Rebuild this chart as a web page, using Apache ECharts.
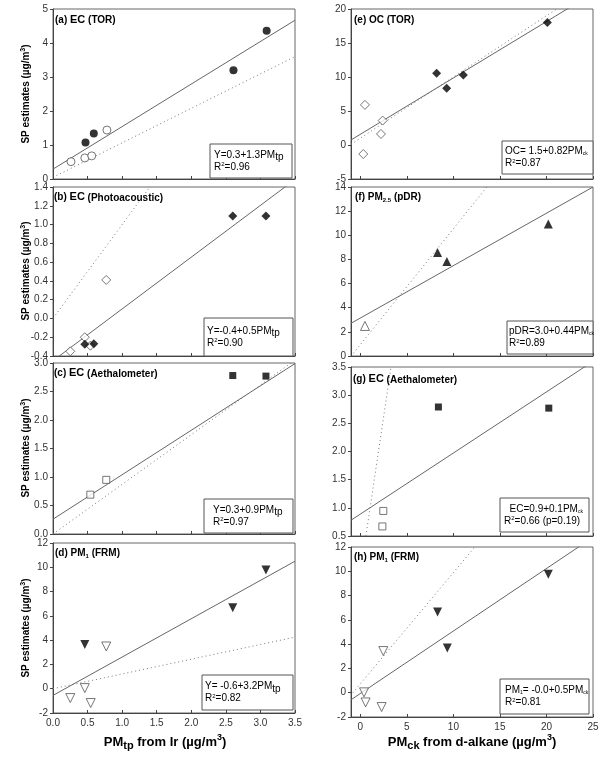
<!DOCTYPE html>
<html>
<head>
<meta charset="utf-8">
<script src="https://cdn.jsdelivr.net/npm/echarts@6/dist/echarts.min.js"></script>
<style>
html,body{margin:0;padding:0;background:#fff;}
#chart{width:602px;height:757px;}
</style>
</head>
<body>
<div id="chart"></div>
<script>
// ---------- data ----------
// Panel (a) EC (TOR)
const aFilled = [[0.47,1.07],[0.59,1.34],[2.61,3.2],[3.09,4.36]];
const aOpen   = [[0.26,0.51],[0.46,0.62],[0.56,0.68],[0.78,1.44]];
const aFit    = [[0,0.29],[3.5,4.67]];
const aRef    = [[0.05,0.1],[3.5,3.6]];
// Panel (b) EC (Photoacoustic)
const bFilled = [[0.46,-0.275],[0.59,-0.27],[2.6,1.09],[3.08,1.09]];
const bOpen   = [[0.25,-0.35],[0.46,-0.2],[0.54,-0.29],[0.77,0.41]];
const bFit    = [[0,-0.45],[3.5,1.48]];
const bRef    = [[0,0],[3.5,3.5]];
// Panel (c) EC (Aethalometer)
const cFilled = [[2.6,2.78],[3.08,2.77]];
const cOpen   = [[0.54,0.69],[0.77,0.95]];
const cFit    = [[0,0.26],[3.5,2.99]];
const cRef    = [[0,0],[3.5,3.05]];
// Panel (d) PM1 (FRM)
const dFilled = [[0.46,3.65],[2.6,6.66],[3.08,9.78]];
const dOpen   = [[0.25,-0.77],[0.46,0.05],[0.545,-1.18],[0.77,3.48]];
const dFit    = [[0,-0.55],[3.5,10.5]];
const dRef    = [[0,0],[3.5,4.25]];
// Panel (e) OC (TOR)
const eFilled = [[8.2,10.56],[9.28,8.35],[11.07,10.3],[20.1,18.0]];
const eOpen   = [[0.5,5.9],[0.32,-1.33],[2.22,1.62],[2.4,3.59]];
const eFit    = [[-1,0.74],[25,22.3]];
const eRef    = [[-1,0.1],[21.1,20]];
// Panel (f) PM2.5 (pDR)
const fFilled = [[8.3,8.58],[9.3,7.83],[20.2,10.93]];
const fOpen   = [[0.5,2.49]];
const fFit    = [[-1,2.71],[25,14]];
const fRef    = [[-0.75,0.22],[13.6,14]];
// Panel (g) EC (Aethalometer)
const gFilled = [[8.39,2.79],[20.25,2.77]];
const gOpen   = [[2.47,0.945],[2.37,0.67]];
const gFit    = [[-1,0.78],[25,3.6]];
const gRef    = [[0.6,0.5],[3.3,3.5]];
// Panel (h) PM1 (FRM)
const hFilled = [[8.3,6.65],[9.35,3.68],[20.2,9.75]];
const hOpen   = [[0.4,0.03],[0.57,-0.8],[2.29,-1.18],[2.47,3.43]];
const hFit    = [[-1,-0.58],[25,12.8]];
const hRef    = [[-0.8,0],[12.3,12]];

// axis ranges [min, max, interval, decimals]
const yRanges = [[0,5,1,0],[-0.4,1.4,0.2,1],[0,3,0.5,1],[-2,12,2,0],[-5,20,5,0],[0,14,2,0],[0.5,3.5,0.5,1],[-2,12,2,0]];
const xLeftRange = [0,3.5,0.5];
const xRightRange = [-1,25];
const xRightTicks = [0,5,10,15,20,25];

// ---------- layout ----------
const FONT = '"Liberation Sans", Arial, sans-serif';
const grids = [
  {left:53, top:9,   width:242, height:170},
  {left:53, top:187, width:242, height:169},
  {left:53, top:363, width:242, height:171},
  {left:53, top:543, width:242, height:170},
  {left:351, top:9,   width:242, height:170},
  {left:351, top:187, width:242, height:169},
  {left:351, top:367, width:242, height:169},
  {left:351, top:547, width:242, height:170}
];
const panels = [
  [aFilled,aOpen,aFit,aRef,'circle',0],
  [bFilled,bOpen,bFit,bRef,'diamond',0],
  [cFilled,cOpen,cFit,cRef,'rect',0],
  [dFilled,dOpen,dFit,dRef,'triangle',180],
  [eFilled,eOpen,eFit,eRef,'diamond',0],
  [fFilled,fOpen,fFit,fRef,'triangle',0],
  [gFilled,gOpen,gFit,gRef,'rect',0],
  [hFilled,hOpen,hFit,hRef,'triangle',180]
];

const xAxes = [], yAxes = [], series = [];
grids.forEach((g,i)=>{
  const right = i>=4;
  const bottomRow = (i===3||i===7);
  const xa = {
    type:'value', gridIndex:i,
    axisLine:{show:true, onZero:false, lineStyle:{color:'#444',width:1}},
    axisTick:{show:true, inside:true, length:3, lineStyle:{color:'#444'}},
    splitLine:{show:false},
    axisLabel:{show:bottomRow, color:'#333', fontSize:10, fontFamily:FONT, margin:5}
  };
  if(!right){
    xa.min = xLeftRange[0]; xa.max = xLeftRange[1]; xa.interval = xLeftRange[2];
    xa.axisLabel.formatter = v=>v.toFixed(1);
  } else {
    xa.min = xRightRange[0]; xa.max = xRightRange[1];
    xa.axisLabel.customValues = xRightTicks;
    xa.axisTick.customValues = xRightTicks;
  }
  xAxes.push(xa);
  const yr = yRanges[i];
  yAxes.push({
    type:'value', gridIndex:i, min:yr[0], max:yr[1], interval:yr[2],
    axisLine:{show:true, onZero:false, lineStyle:{color:'#444',width:1}},
    axisTick:{show:true, length:3, lineStyle:{color:'#444'}},
    splitLine:{show:false},
    axisLabel:{color:'#333', fontSize:10, fontFamily:FONT, margin:5, formatter:v=>v.toFixed(yr[3])}
  });
  const p = panels[i];
  const size = p[4]==='rect'?7:(p[4]==='circle'?8:9);
  series.push({type:'line', xAxisIndex:i, yAxisIndex:i, data:p[3], symbol:'none', clip:true, silent:true,
    lineStyle:{color:'#777', width:1, type:[1,3]}, z:2});
  series.push({type:'line', xAxisIndex:i, yAxisIndex:i, data:p[2], symbol:'none', clip:true, silent:true,
    lineStyle:{color:'#666', width:1}, z:3});
  series.push({type:'scatter', xAxisIndex:i, yAxisIndex:i, data:p[1], symbol:p[4], symbolRotate:p[5],
    symbolSize:size, itemStyle:{color:'#fff', borderColor:'#555', borderWidth:1}, z:4});
  series.push({type:'scatter', xAxisIndex:i, yAxisIndex:i, data:p[0], symbol:p[4], symbolRotate:p[5],
    symbolSize:size, itemStyle:{color:'#000'}, z:5});
});

// ---------- texts ----------
const titleRich = {
  p:{fontSize:10, fontWeight:'bold', fontFamily:FONT, color:'#111'},
  e:{fontSize:11, fontWeight:'bold', fontFamily:FONT, color:'#111'},
  q:{fontSize:10, fontWeight:'bold', fontFamily:FONT, color:'#111', padding:[3,0,0,0]},
  s:{fontSize:6, fontWeight:'bold', fontFamily:FONT, color:'#111', padding:[6,0,0,0]}
};
const titles = [
  [55,20,'{p|(a) }{e|EC}{p| (TOR)}'],
  [54,197,'{p|(b) }{e|EC}{q| (Photoacoustic)}'],
  [54,373,'{p|(c) }{e|EC}{q| (Aethalometer)}'],
  [55,553,'{p|(d) PM}{s|1}{p| (FRM)}'],
  [354,20,'{p|(e) OC (TOR)}'],
  [355,197,'{p|(f) PM}{s|2.5}{p| (pDR)}'],
  [353,379,'{p|(g) }{e|EC}{q| (Aethalometer)}'],
  [354,557,'{p|(h) PM}{s|1}{p| (FRM)}']
];
const boxRich = {
  n:{fontSize:10, fontFamily:FONT, color:'#222', lineHeight:12},
  t:{fontSize:10, fontFamily:FONT, color:'#222', padding:[5,0,0,0], lineHeight:12},
  k:{fontSize:5, fontFamily:FONT, color:'#222', padding:[5,0,0,0], lineHeight:12},
  u:{fontSize:6, fontFamily:FONT, color:'#222', padding:[0,0,5,0], lineHeight:12}
};
const boxes = [
  [210,144,82,34,214,'{n|Y=0.3+1.3PM}{t|tp}\n{n|R}{u|2}{n|=0.96}'],
  [204,318,89,38,207,'{n|Y=-0.4+0.5PM}{t|tp}\n{n|R}{u|2}{n|=0.90}'],
  [204,499,89,34,213,'{n|Y=0.3+0.9PM}{t|tp}\n{n|R}{u|2}{n|=0.97}'],
  [202,675,91,35,205,'{n|Y= -0.6+3.2PM}{t|tp}\n{n|R}{u|2}{n|=0.82}'],
  [502,141,91,33,505,'{n|OC= 1.5+0.82PM}{k|ck}\n{n|R}{u|2}{n|=0.87}'],
  [507,321,86,33,509,'{n|pDR=3.0+0.44PM}{k|ck}\n{n|R}{u|2}{n|=0.89}'],
  [500,498,89,34,504,'{n|  EC=0.9+0.1PM}{k|ck}\n{n|R}{u|2}{n|=0.66 (p=0.19)}'],
  [500,679,89,35,505,'{n|PM}{k|1}{n|= -0.0+0.5PM}{k|ck}\n{n|R}{u|2}{n|=0.81}']
];
const graphic = [];
titles.forEach(t=>{
  graphic.push({type:'text', x:t[0], y:t[1], z:100,
    style:{text:t[2], rich:titleRich, verticalAlign:'middle', align:'left'}});
});
boxes.forEach(b=>{
  graphic.push({type:'rect', x:b[0], y:b[1], z:100, shape:{x:0,y:0,width:b[2],height:b[3]},
    style:{fill:'#fff', stroke:'#555', lineWidth:1}});
  graphic.push({type:'text', x:b[4], y:b[1]+b[3]/2, z:101,
    style:{text:b[5], rich:boxRich, verticalAlign:'middle', align:'left'}});
});
const yNameRich = {
  b:{fontSize:10, fontWeight:'bold', fontFamily:FONT, color:'#111'},
  u:{fontSize:7, fontWeight:'bold', fontFamily:FONT, color:'#111', padding:[0,0,6,0]}
};
[94,271,448,628].forEach(cy=>{
  graphic.push({type:'text', x:26, y:cy, rotation:Math.PI/2, z:100,
    style:{text:'{b|SP estimates (µg/m}{u|3}{b|)}', rich:yNameRich, align:'center', verticalAlign:'middle'}});
});
const xNameRich = {
  b:{fontSize:13, fontWeight:'bold', fontFamily:FONT, color:'#111'},
  s:{fontSize:11, fontWeight:'bold', fontFamily:FONT, color:'#111', padding:[8,0,0,0]},
  u:{fontSize:9, fontWeight:'bold', fontFamily:FONT, color:'#111', padding:[0,0,8,0]}
};
graphic.push({type:'text', x:165, y:742, z:100,
  style:{text:'{b|PM}{s|tp}{b| from Ir (µg/m}{u|3}{b|)}', rich:xNameRich, align:'center', verticalAlign:'middle'}});
graphic.push({type:'text', x:472, y:742, z:100,
  style:{text:'{b|PM}{s|ck}{b| from d-alkane (µg/m}{u|3}{b|)}', rich:xNameRich, align:'center', verticalAlign:'middle'}});

const chart = echarts.init(document.getElementById('chart'), null, {renderer:'canvas'});
chart.setOption({
  animation:false,
  backgroundColor:'#fff',
  grid: grids.map(g=>Object.assign({show:true, borderColor:'#666', borderWidth:1, containLabel:false}, g)),
  xAxis:xAxes, yAxis:yAxes, series:series, graphic:graphic
});
</script>
</body>
</html>
